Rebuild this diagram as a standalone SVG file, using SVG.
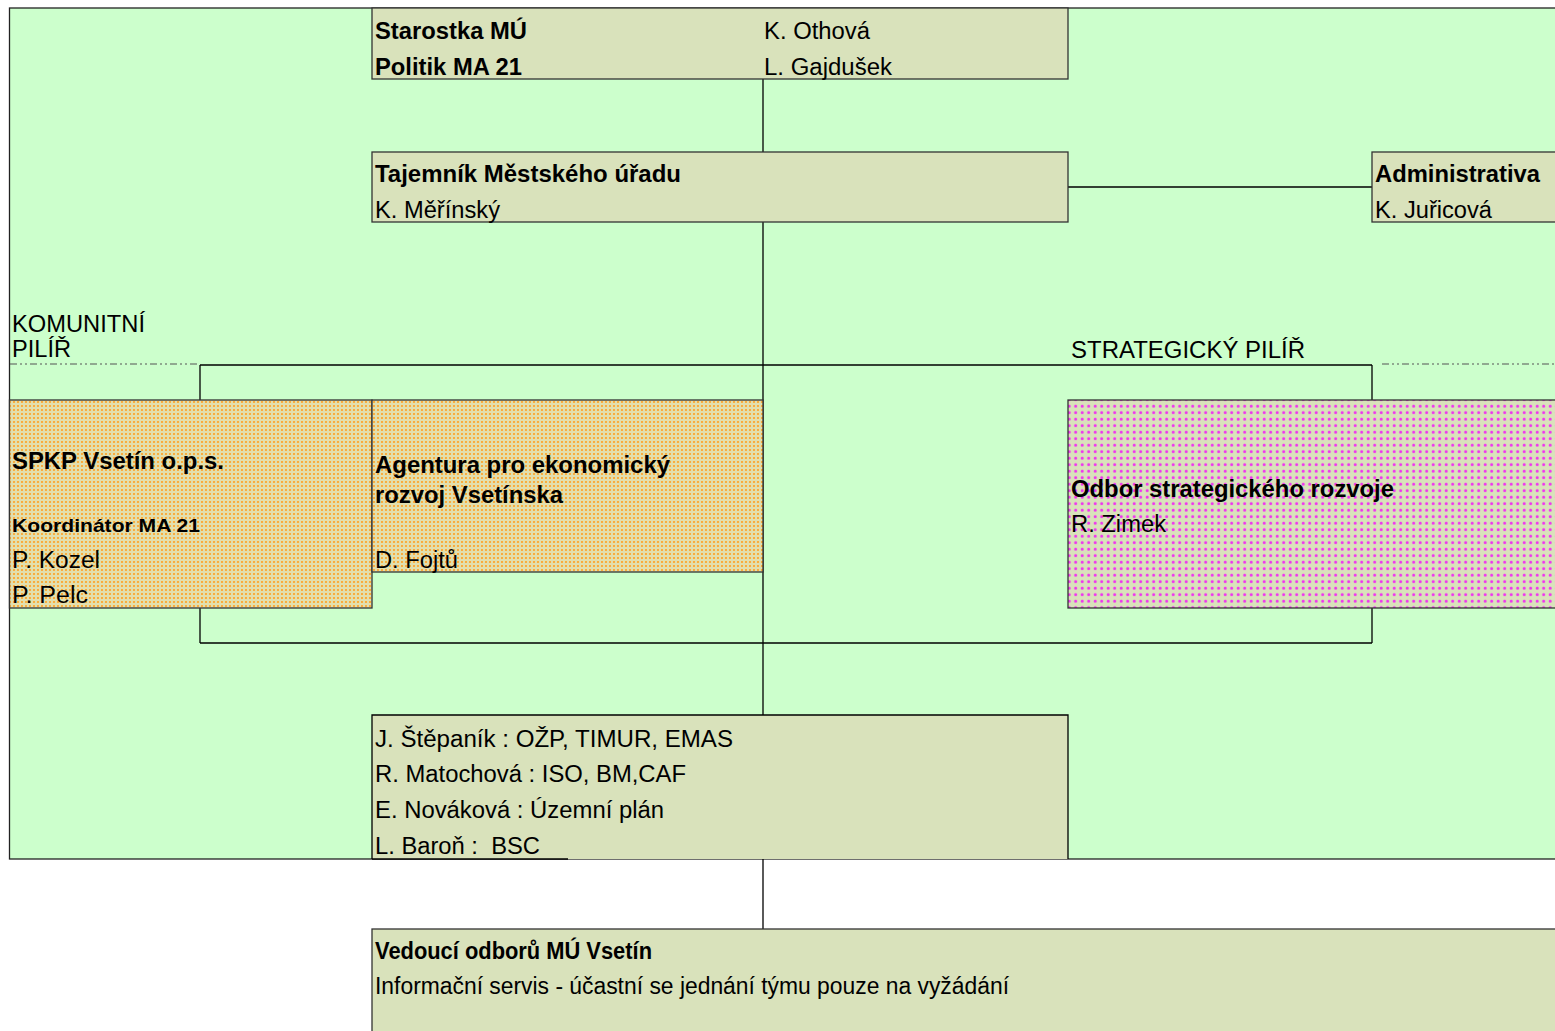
<svg xmlns="http://www.w3.org/2000/svg" width="1555" height="1031" viewBox="0 0 1555 1031">
<defs>
<pattern id="orangeDots" width="4" height="4" patternUnits="userSpaceOnUse">
<rect width="4" height="4" fill="#e2dfae"/>
<circle cx="2" cy="2" r="1.05" fill="#ffa020"/>
</pattern>
<pattern id="pinkDots" width="6.5" height="6.5" patternUnits="userSpaceOnUse">
<rect width="6.5" height="6.5" fill="#d9e2bb"/>
<circle cx="3.2" cy="3.2" r="1.5" fill="#f030f0"/>
</pattern>
<style>
.box{fill:#d9e2bb;stroke:#333;stroke-width:1.3}
.t{font-family:'Liberation Sans',Arial,sans-serif;font-size:23px;fill:#000}
.b{font-weight:bold}
.ln{stroke:#000;stroke-width:1.3;fill:none}
.dd{stroke:#555;stroke-width:1.2;fill:none;stroke-dasharray:7,3,2,3,2,3}
</style>
</defs>
<rect x="0" y="0" width="1555" height="1031" fill="#fff"/>
<rect x="9.5" y="8" width="1550" height="851" fill="#ccffcc" stroke="#222" stroke-width="1.3"/>

<g id="connectors">
<line class="ln" x1="763" y1="79" x2="763" y2="152"/>
<line class="ln" x1="1068" y1="187" x2="1372" y2="187"/>
<line class="ln" x1="763" y1="222" x2="763" y2="715"/>
<line class="ln" x1="200" y1="365" x2="1372" y2="365"/>
<line class="dd" x1="10" y1="364" x2="198" y2="364"/>
<line class="dd" x1="1382" y1="364" x2="1555" y2="364"/>
<line class="ln" x1="200" y1="365" x2="200" y2="400"/>
<line class="ln" x1="1372" y1="365" x2="1372" y2="400"/>
<line class="ln" x1="200" y1="608" x2="200" y2="643"/>
<line class="ln" x1="1372" y1="608" x2="1372" y2="643"/>
<line class="ln" x1="200" y1="643" x2="1372" y2="643"/>
<line class="ln" x1="763" y1="859" x2="763" y2="929"/>
</g>

<g id="labels" font-family="Liberation Sans, Arial, sans-serif">
<text class="t" x="12" y="332" textLength="133" lengthAdjust="spacingAndGlyphs">KOMUNITNÍ</text>
<text class="t" x="12" y="357" textLength="59" lengthAdjust="spacingAndGlyphs">PILÍŘ</text>
<text class="t" x="1071" y="358" textLength="234" lengthAdjust="spacingAndGlyphs">STRATEGICKÝ PILÍŘ</text>
</g>

<g id="starostka">
<rect class="box" x="372" y="8" width="696" height="71"/>
<text class="t b" x="375" y="39" textLength="152" lengthAdjust="spacingAndGlyphs">Starostka MÚ</text>
<text class="t" x="764" y="39" textLength="106" lengthAdjust="spacingAndGlyphs">K. Othová</text>
<text class="t b" x="375" y="75" textLength="147" lengthAdjust="spacingAndGlyphs">Politik MA 21</text>
<text class="t" x="764" y="75" textLength="128" lengthAdjust="spacingAndGlyphs">L. Gajdušek</text>
</g>

<g id="tajemnik">
<rect class="box" x="372" y="152" width="696" height="70"/>
<text class="t b" x="375" y="182" textLength="306" lengthAdjust="spacingAndGlyphs">Tajemník Městského úřadu</text>
<text class="t" x="375" y="218" textLength="125" lengthAdjust="spacingAndGlyphs">K. Měřínský</text>
</g>

<g id="administrativa">
<rect class="box" x="1372" y="152" width="190" height="70"/>
<text class="t b" x="1375" y="182" textLength="165" lengthAdjust="spacingAndGlyphs">Administrativa</text>
<text class="t" x="1375" y="218" textLength="117" lengthAdjust="spacingAndGlyphs">K. Juřicová</text>
</g>

<g id="spkp">
<rect x="9.5" y="400" width="362.5" height="208" fill="url(#orangeDots)" stroke="#333" stroke-width="1.3"/>
<text class="t b" x="12" y="469" textLength="212" lengthAdjust="spacingAndGlyphs">SPKP Vsetín o.p.s.</text>
<text class="t b" x="12" y="532" style="font-size:19px" textLength="188" lengthAdjust="spacingAndGlyphs">Koordinátor MA 21</text>
<text class="t" x="12" y="568" textLength="88" lengthAdjust="spacingAndGlyphs">P. Kozel</text>
<text class="t" x="12" y="603" textLength="76" lengthAdjust="spacingAndGlyphs">P. Pelc</text>
</g>

<g id="agentura">
<rect x="372" y="400" width="391" height="172" fill="url(#orangeDots)" stroke="#333" stroke-width="1.3"/>
<text class="t b" x="375" y="473" textLength="295" lengthAdjust="spacingAndGlyphs">Agentura pro ekonomický</text>
<text class="t b" x="375" y="503" textLength="188" lengthAdjust="spacingAndGlyphs">rozvoj Vsetínska</text>
<text class="t" x="375" y="568" textLength="83" lengthAdjust="spacingAndGlyphs">D. Fojtů</text>
</g>

<g id="odbor">
<rect x="1068" y="400" width="495" height="208" fill="url(#pinkDots)" stroke="#333" stroke-width="1.3"/>
<text class="t b" x="1071" y="497" textLength="323" lengthAdjust="spacingAndGlyphs">Odbor strategického rozvoje</text>
<text class="t" x="1071" y="532" textLength="95" lengthAdjust="spacingAndGlyphs">R. Zimek</text>
</g>

<g id="tym">
<rect x="372" y="715" width="696" height="144" fill="#d9e2bb"/>
<polyline class="ln" points="372,859 372,715 1068,715 1068,859"/>
<line class="ln" x1="372" y1="859" x2="568" y2="859"/>
<text class="t" x="375" y="747" textLength="358" lengthAdjust="spacingAndGlyphs">J. Štěpaník : OŽP, TIMUR, EMAS</text>
<text class="t" x="375" y="782" textLength="311" lengthAdjust="spacingAndGlyphs">R. Matochová : ISO, BM,CAF</text>
<text class="t" x="375" y="818" textLength="289" lengthAdjust="spacingAndGlyphs">E. Nováková : Územní plán</text>
<text class="t" x="375" y="854" textLength="165" lengthAdjust="spacingAndGlyphs" xml:space="preserve">L. Baroň :  BSC</text>
</g>

<g id="vedouci">
<rect class="box" x="372" y="929" width="1190" height="110"/>
<text class="t b" x="375" y="959" textLength="277" lengthAdjust="spacingAndGlyphs">Vedoucí odborů MÚ Vsetín</text>
<text class="t" x="375" y="994" textLength="634" lengthAdjust="spacingAndGlyphs">Informační servis - účastní se jednání týmu pouze na vyžádání</text>
</g>
</svg>
